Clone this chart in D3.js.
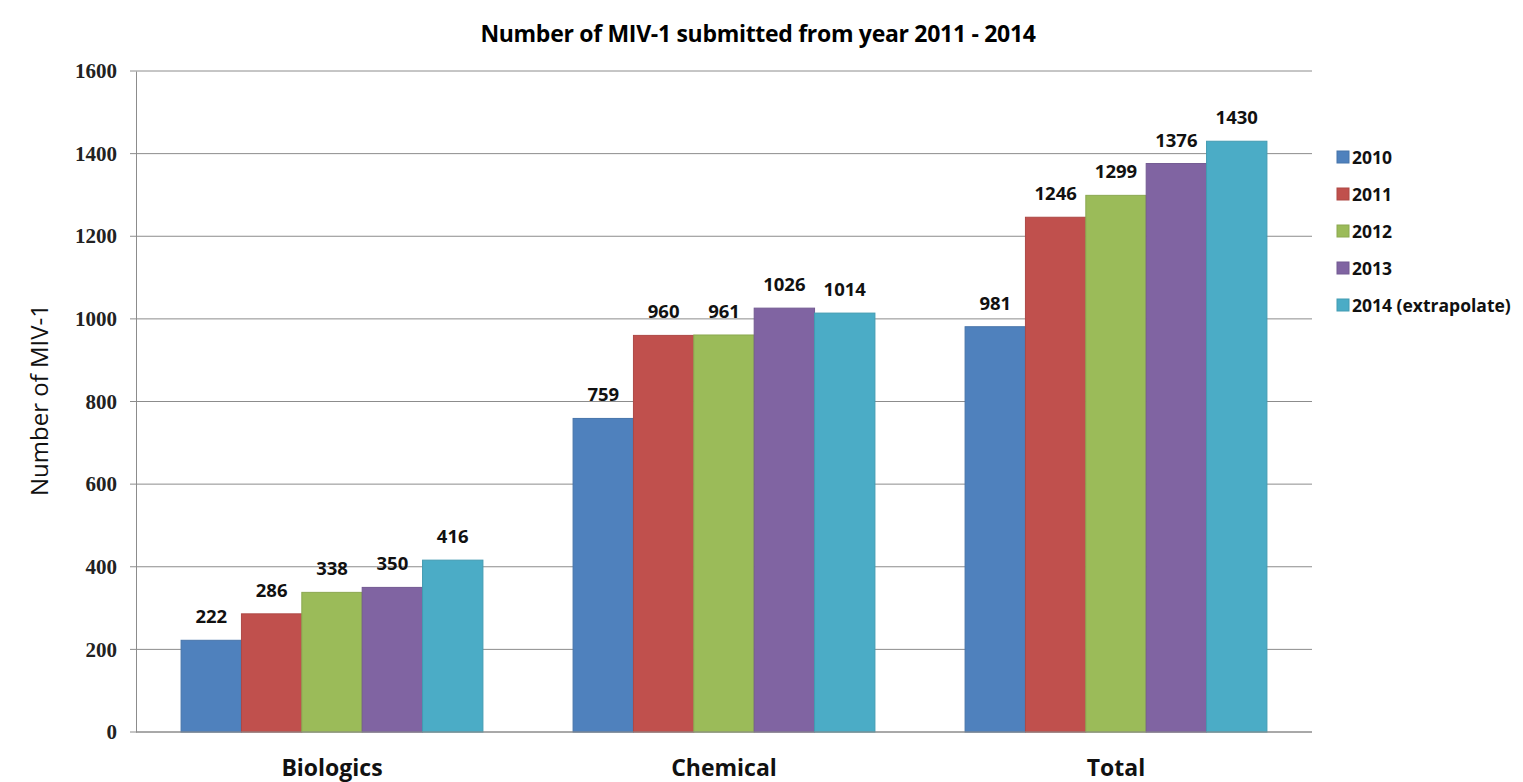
<!DOCTYPE html>
<html lang="en">
<head>
    <meta charset="utf-8">
    <title>MIV-1</title>
    <script src="https://d3js.org/d3.v7.min.js"></script>
    <style>
        body { margin: 0; background: #fff; }
        text { font-family: "Open Sans", "Noto Sans", sans-serif; }
    </style>
</head>
<body>
<svg width="1523" height="782"></svg>
<script>
    // data
    var categories = ["Biologics", "Chemical", "Total"];
    var years = ["2010", "2011", "2012", "2013", "2014 (extrapolate)"];
    var v2010 = [222, 759, 981];
    var v2011 = [286, 960, 1246];
    var v2012 = [338, 961, 1299];
    var v2013 = [350, 1026, 1376];
    var v2014 = [416, 1014, 1430];
    var yTicks = [0, 200, 400, 600, 800, 1000, 1200, 1400, 1600];
    var colors = ["#4F81BD", "#C0504D", "#9BBB59", "#8064A2", "#4BACC6"];

    var series = [v2010, v2011, v2012, v2013, v2014];

    var svg = d3.select("svg");
    var marge = {top: 71, left: 136, right: 211, bottom: 50};
    var width = 1523 - marge.left - marge.right;   // 1176
    var height = 732 - marge.top;                   // 661

    var g = svg.append("g")
        .attr("transform", "translate(" + marge.left + "," + marge.top + ")");

    var x0 = d3.scaleBand()
        .domain(categories)
        .range([0, width])
        .paddingInner(0.23)
        .paddingOuter(0.115);

    var x1 = d3.scaleBand()
        .domain(d3.range(years.length))
        .range([0, x0.bandwidth()]);

    var y = d3.scaleLinear()
        .domain([0, 1600])
        .range([height, 0]);

    // gridlines
    g.selectAll(".grid")
        .data(yTicks)
        .enter()
        .append("line")
        .attr("x1", -6)
        .attr("x2", width)
        .attr("y1", function(d){ return y(d); })
        .attr("y2", function(d){ return y(d); })
        .attr("stroke", "#8c8c8c")
        .attr("stroke-width", 1);

    // y axis
    var yAxis = d3.axisLeft(y).tickValues(yTicks).tickFormat(d3.format("d")).tickSize(0).tickPadding(19);
    var ya = g.append("g").call(yAxis);
    ya.select(".domain").attr("stroke", "#8c8c8c");
    ya.selectAll("text")
        .style("font-family", "'Liberation Serif', serif")
        .style("font-weight", "bold")
        .style("font-size", "21px")
        .attr("fill", "#222");

    // bars
    var gs = g.selectAll(".cat")
        .data(categories)
        .enter()
        .append("g")
        .attr("transform", function(d){ return "translate(" + x0(d) + ",0)"; });

    gs.selectAll("rect")
        .data(function(d, ci){ return series.map(function(s, si){ return {si: si, v: s[ci]}; }); })
        .enter()
        .append("rect")
        .attr("x", function(d){ return x1(d.si); })
        .attr("y", function(d){ return y(d.v); })
        .attr("width", x1.bandwidth())
        .attr("height", function(d){ return height - y(d.v); })
        .attr("fill", function(d){ return colors[d.si]; })
        .attr("stroke", function(d){ return d3.color(colors[d.si]).darker(0.3); })
        .attr("stroke-width", 1);

    gs.selectAll(".lbl")
        .data(function(d, ci){ return series.map(function(s, si){ return {si: si, v: s[ci]}; }); })
        .enter()
        .append("text")
        .attr("x", function(d){ return x1(d.si) + x1.bandwidth() / 2; })
        .attr("y", function(d){ return y(d.v) - 17; })
        .attr("text-anchor", "middle")
        .style("font-size", "18.5px")
        .style("font-weight", "bold")
        .attr("fill", "#111")
        .text(function(d){ return d.v; });

    // x axis
    g.append("line")
        .attr("x1", 0).attr("x2", width)
        .attr("y1", height).attr("y2", height)
        .attr("stroke", "#8c8c8c");

    g.selectAll(".xl")
        .data(categories)
        .enter()
        .append("text")
        .attr("x", function(d){ return x0(d) + x0.bandwidth() / 2; })
        .attr("y", height + 44)
        .attr("text-anchor", "middle")
        .style("font-size", "23px")
        .style("font-weight", "bold")
        .attr("fill", "#111")
        .text(function(d){ return d; });

    // title
    svg.append("text")
        .attr("x", 758)
        .attr("y", 42)
        .attr("text-anchor", "middle")
        .style("font-size", "23px")
        .style("font-weight", "bold")
        .style("letter-spacing", "-0.3px")
        .attr("fill", "#000")
        .text("Number of MIV-1 submitted from year 2011 - 2014");

    // y axis title
    svg.append("text")
        .attr("transform", "translate(48,400) rotate(-90)")
        .attr("text-anchor", "middle")
        .style("font-size", "24px")
        .attr("fill", "#111")
        .text("Number of MIV-1");

    // legend
    var lg = svg.append("g").attr("transform", "translate(1337,151)");
    var li = lg.selectAll("g")
        .data(years)
        .enter()
        .append("g")
        .attr("transform", function(d, i){ return "translate(0," + (i * 37) + ")"; });
    li.append("rect")
        .attr("x", 0).attr("y", 0)
        .attr("width", 12).attr("height", 12)
        .attr("fill", function(d, i){ return colors[i]; })
        .attr("stroke", function(d, i){ return d3.color(colors[i]).darker(0.3); });
    li.append("text")
        .attr("x", 15)
        .attr("y", 13)
        .style("font-size", "17.5px")
        .style("font-weight", "bold")
        .attr("fill", "#111")
        .text(function(d){ return d; });
</script>
</body>
</html>
